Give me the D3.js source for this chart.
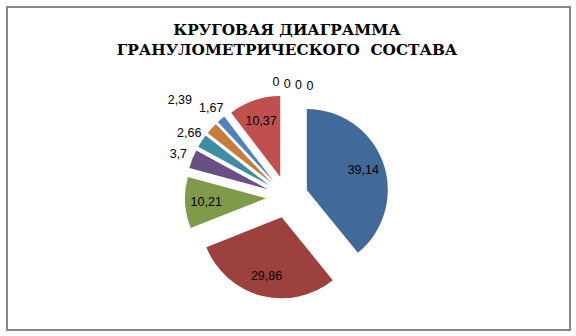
<!DOCTYPE html>
<html><head><meta charset="utf-8">
<script src="https://cdn.jsdelivr.net/npm/d3@7"></script>
<style>html,body{margin:0;padding:0;background:#fff;}svg{display:block;}</style>
</head><body>
<svg id="chart" width="576" height="336"></svg>
<script>
const titleLines = ["КРУГОВАЯ ДИАГРАММА", "ГРАНУЛОМЕТРИЧЕСКОГО  СОСТАВА"];
const categories = ["1", "2", "3", "4", "5", "6", "7", "8", "9", "10", "11", "12"];
const values = [39.14, 29.86, 10.21, 3.7, 2.66, 2.39, 1.67, 10.37, 0, 0, 0, 0];
const labels = ["39,14", "29,86", "10,21", "3,7", "2,66", "2,39", "1,67", "10,37", "0", "0", "0", "0"];
const colors = ["#416A9B", "#9D413F", "#7F9A49", "#694F85", "#3E8DA2", "#CA7B3A", "#4F81BD", "#C0504D", "#9D413F", "#7F9A49", "#694F85", "#3E8DA2"];

const svg = d3.select("#chart");
svg.append("rect").attr("x", 7).attr("y", 7).attr("width", 563).attr("height", 323)
  .attr("fill", "#fff").attr("stroke", "#878787").attr("stroke-width", 2);

svg.append("g").selectAll("text").data(titleLines).join("text")
  .attr("x", 287).attr("y", (d, i) => 35 + i * 20)
  .attr("text-anchor", "middle")
  .style("font-family", "\"DejaVu Serif\", serif")
  .style("font-weight", "bold").style("font-size", "15.3px")
  .style("white-space", "pre")
  .attr("fill", "#000")
  .text(d => d);

const cx = 287, cy = 197, R = 81, explode = 21;
const pie = d3.pie().sort(null).value(d => d.v);
const arcs = pie(values.map((v, i) => ({v, i})));
const arc = d3.arc().innerRadius(0).outerRadius(R);
const g = svg.append("g").attr("transform", `translate(${cx},${cy})`);
const mid = a => (a.startAngle + a.endAngle) / 2;

g.selectAll("path").data(arcs.filter(a => a.data.v > 0)).join("path")
  .attr("d", arc)
  .attr("fill", a => colors[a.index])
  .attr("transform", a => `translate(${explode * Math.sin(mid(a))},${-explode * Math.cos(mid(a))})`);

const font = "'Liberation Sans', Arial, sans-serif";
const placed = [];
const lw = 30, lh = 14;
function overlaps(x, y) {
  return placed.some(p => Math.abs(p.x - x) < lw && Math.abs(p.y - y) < lh);
}
const pos = new Array(arcs.length);
arcs.forEach((a, i) => {
  if (a.data.v >= 5) {
    const m = mid(a), r = explode + 0.74 * R;
    pos[i] = {x: r * Math.sin(m), y: -r * Math.cos(m)};
  }
});
const zeros = arcs.filter(a => a.data.v === 0);
zeros.forEach((a, k) => {
  pos[a.index] = {x: -11 + k * 11.3, y: -115 + k * 1.2};
});
for (let i = arcs.length - 1; i >= 0; i--) {
  const a = arcs[i];
  if (a.data.v > 0 && a.data.v < 5) {
    const m = mid(a);
    let r = 117;
    let x = r * Math.sin(m), y = -r * Math.cos(m);
    while (overlaps(x, y) && r < 200) { r += 2; x = r * Math.sin(m); y = -r * Math.cos(m); }
    pos[i] = {x, y};
    placed.push(pos[i]);
  }
}
g.selectAll("text").data(arcs).join("text")
  .attr("x", a => pos[a.index].x)
  .attr("y", a => pos[a.index].y)
  .attr("dy", "0.35em")
  .attr("text-anchor", "middle")
  .attr("font-family", font).attr("font-size", 12.5).attr("fill", "#000")
  .text(a => labels[a.index]);
</script>
</body></html>
